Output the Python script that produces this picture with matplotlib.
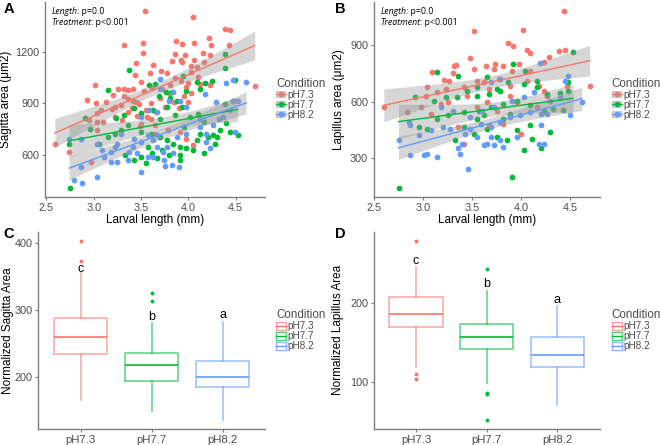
import matplotlib
matplotlib.use('Agg')
import matplotlib.pyplot as plt
import numpy as np
from matplotlib.lines import Line2D
from matplotlib.patches import Patch

plt.rcParams['font.family'] = ['Liberation Sans', 'DejaVu Sans']

conditions = ['pH7.3', 'pH7.7', 'pH8.2']
colors = ['#F8766D', '#00BA38', '#619CFF']

# panel A: larval length (mm) vs sagitta area
sag_73 = np.array([
    [3.54, 1435], [4.05, 1402], [4.39, 1329], [4.44, 1325], [4.22, 1277], [3.32, 1240],
    [3.52, 1252], [4.06, 1248], [3.93, 1242], [4.43, 1238], [3.86, 1185], [3.96, 1179],
    [3.52, 1192], [4.15, 1190], [4.23, 1179], [3.92, 1150], [4.06, 1150], [3.83, 1146],
    [3.93, 1137], [3.45, 1133], [4.16, 1137], [3.63, 1121], [3.71, 1088], [4.03, 1117],
    [4.09, 1113], [4.03, 1079], [3.77, 1075], [3.59, 1075], [3.44, 1063], [3.50, 1025],
    [3.01, 1006], [3.26, 983], [3.32, 983], [3.36, 979], [3.41, 983], [3.86, 1044],
    [3.92, 1031], [4.00, 1017], [4.12, 1012], [4.23, 1008], [3.98, 992], [4.03, 958],
    [3.81, 1004], [3.72, 981], [3.53, 969], [3.62, 988], [2.93, 917], [3.02, 900],
    [3.13, 906], [3.32, 940], [3.36, 925], [3.42, 915], [3.48, 896], [3.19, 867],
    [3.23, 877], [3.29, 887], [3.08, 858], [3.03, 844], [3.04, 790], [3.23, 819],
    [3.36, 848], [3.46, 825], [3.56, 819], [3.65, 771], [3.78, 742], [3.91, 733],
    [3.98, 694], [4.05, 660], [4.70, 1002], [2.59, 662], [2.74, 617], [2.97, 556],
    [3.65, 723], [3.49, 765], [3.04, 742], [3.87, 1262], [4.24, 1236], [3.40, 870],
    [3.45, 905], [3.55, 860], [3.60, 900], [3.66, 850], [3.70, 930], [3.75, 880],
    [3.80, 960], [3.85, 905], [3.90, 870], [3.95, 940], [4.00, 905], [4.10, 1050],
    [3.30, 800], [3.50, 780], [3.60, 810], [3.20, 950], [3.10, 790], [2.95, 800],
])
sag_77 = np.array([
    [3.37, 1094], [3.15, 977], [2.91, 815], [2.96, 752], [2.74, 665], [2.75, 406],
    [3.06, 665], [3.15, 704], [3.24, 815], [3.43, 873], [3.50, 842], [3.63, 863],
    [3.70, 806], [3.86, 829], [4.02, 819], [4.10, 838], [4.17, 790], [3.93, 877],
    [4.09, 1021], [4.18, 1017], [4.25, 1031], [4.12, 983], [3.94, 1060], [3.98, 973],
    [3.69, 944], [3.81, 929], [3.58, 1008], [3.65, 1012], [3.76, 963], [3.83, 963],
    [3.88, 915], [3.77, 877], [3.36, 771], [3.29, 742], [3.22, 723], [3.50, 733],
    [3.60, 723], [3.70, 704], [3.77, 685], [3.84, 665], [3.91, 646], [3.98, 637],
    [4.05, 627], [4.16, 608], [4.26, 713], [4.28, 665], [4.33, 746], [4.40, 787],
    [4.52, 713], [4.49, 1037], [4.39, 1104], [4.39, 1185], [3.50, 588], [3.62, 608],
    [3.72, 627], [3.79, 598], [3.33, 598], [3.43, 569], [3.55, 554], [3.67, 579],
    [3.91, 569], [3.91, 598], [3.57, 646], [4.12, 723], [4.21, 704], [4.30, 704],
    [4.44, 733], [4.47, 910], [4.39, 896], [3.32, 829], [3.95, 762], [4.09, 685],
])
sag_82 = np.array([
    [2.74, 694], [2.87, 694], [3.04, 665], [3.22, 646], [3.03, 473], [2.88, 435],
    [2.87, 531], [2.79, 454], [3.25, 560], [3.36, 569], [3.50, 502], [3.37, 617],
    [3.46, 608], [3.57, 588], [3.63, 588], [3.74, 569], [3.75, 535], [3.83, 540],
    [3.73, 617], [3.77, 646], [3.84, 608], [3.63, 685], [3.67, 646], [3.50, 675],
    [3.41, 646], [3.29, 723], [3.11, 588], [3.09, 627], [3.18, 617], [3.18, 560],
    [3.25, 665], [3.43, 694], [3.57, 713], [3.67, 713], [3.88, 704], [3.98, 723],
    [4.12, 762], [4.19, 723], [4.26, 771], [4.32, 810], [4.37, 819], [4.44, 858],
    [4.47, 915], [4.52, 915], [4.61, 1025], [4.40, 1017], [4.47, 1037], [4.18, 954],
    [4.29, 906], [4.19, 675], [4.23, 637], [4.49, 733], [4.12, 810], [3.98, 877],
    [3.91, 915], [3.79, 915], [3.67, 848], [3.70, 1040], [3.84, 963], [3.70, 983],
    [3.58, 858], [3.50, 819], [3.90, 531],
])

# panel B: larval length (mm) vs lapillus area
lap_73 = np.array([
    [4.44, 1081], [3.52, 975], [4.02, 981], [3.87, 914], [3.92, 896], [4.06, 875],
    [4.09, 861], [4.39, 870], [4.45, 875], [4.29, 840], [3.48, 835], [3.73, 800],
    [3.82, 791], [3.64, 791], [3.32, 791], [3.34, 797], [3.98, 800], [4.23, 809],
    [3.52, 774], [3.72, 774], [3.91, 765], [4.09, 761], [3.31, 751], [3.09, 760],
    [3.21, 718], [3.26, 712], [3.55, 712], [3.62, 704], [3.77, 721], [4.06, 712],
    [3.04, 681], [3.14, 651], [3.23, 668], [3.42, 677], [3.67, 668], [3.89, 686],
    [4.18, 686], [4.23, 660], [4.26, 633], [3.89, 633], [3.45, 633], [2.84, 546],
    [2.60, 572], [2.98, 572], [3.08, 537], [3.18, 590], [3.65, 598], [3.75, 554],
    [4.00, 432], [4.70, 686], [4.47, 686], [3.42, 379], [3.36, 467], [3.67, 476],
    [3.03, 633], [3.25, 598], [3.55, 572], [4.16, 572], [3.82, 484], [3.96, 598],
])
lap_77 = np.array([
    [2.75, 142], [3.91, 204], [4.53, 865], [3.14, 756], [3.36, 739], [3.92, 800],
    [4.48, 707], [4.40, 646], [4.48, 656], [4.03, 695], [4.16, 677], [4.26, 642],
    [3.75, 668], [3.67, 642], [3.55, 633], [3.45, 660], [3.35, 625], [3.23, 625],
    [3.11, 607], [2.92, 625], [2.96, 467], [3.04, 458], [3.14, 511], [3.25, 528],
    [3.42, 546], [3.57, 554], [3.69, 572], [3.82, 590], [3.96, 607], [4.09, 581],
    [4.23, 554], [4.33, 563], [4.43, 558], [3.42, 467], [3.52, 432], [3.65, 458],
    [3.75, 414], [3.86, 397], [3.96, 449], [4.09, 476], [4.20, 353], [4.03, 344],
    [4.30, 440], [4.11, 405], [3.33, 397], [3.55, 511], [3.62, 528], [3.82, 511],
    [3.89, 537], [3.79, 660], [3.87, 704], [3.65, 730], [3.55, 677], [4.04, 765],
    [4.16, 712],
])
lap_82 = np.array([
    [2.75, 397], [2.87, 318], [3.01, 318], [3.04, 326], [3.14, 309], [3.46, 244],
    [3.36, 353], [3.40, 379], [3.38, 326], [2.87, 476], [2.86, 493], [2.96, 423],
    [3.08, 449], [3.20, 467], [3.28, 458], [3.48, 458], [3.59, 484], [3.69, 467],
    [3.79, 493], [3.89, 519], [3.99, 528], [4.09, 546], [4.20, 537], [4.30, 607],
    [4.40, 625], [4.45, 712], [4.48, 739], [4.19, 804], [4.62, 598], [4.50, 528],
    [4.20, 476], [4.23, 379], [4.18, 379], [3.96, 414], [3.79, 397], [3.65, 379],
    [3.55, 414], [3.43, 432], [3.69, 414], [3.82, 362], [3.72, 370], [3.62, 370],
    [3.18, 572], [3.31, 554], [3.48, 519], [3.60, 554], [3.72, 572], [3.79, 721],
    [3.69, 704], [3.91, 607], [4.03, 625], [4.13, 651], [4.26, 537],
])

# panels C, D: box statistics
sag_med = [259.5, 217, 199]
sag_q1 = [234, 193, 184]
sag_q3 = [288.5, 236, 224]
sag_lo = [165, 149, 135]
sag_hi = [355, 280, 282]
sag_out = [[404, 373], [325, 313], []]
sag_letters = ['c', 'b', 'a']
sag_letter_y = [362, 290, 292]

lap_med = [185.8, 157.3, 134.3]
lap_q1 = [169.5, 141.4, 119.7]
lap_q3 = [207.5, 172.8, 156.5]
lap_lo = [119.7, 99.6, 71.5]
lap_hi = [245, 214.6, 195.8]
lap_out = [[277.8, 110, 104.6], [241.8, 86.6, 85, 52.7], []]
lap_letters = ['c', 'b', 'a']
lap_letter_y = [252.7, 223, 204]

AX_COL = '#4d4d4d'
TICK_FS = 7.8
LAB_FS = 8.5


def style_axes(ax, label_x):
    for s in ['top', 'right']:
        ax.spines[s].set_visible(False)
    for s in ['left', 'bottom']:
        ax.spines[s].set_color('#7f7f7f')
        ax.spines[s].set_linewidth(1.0)
    ax.tick_params(colors='#7f7f7f', labelcolor=AX_COL, labelsize=TICK_FS,
                   length=2.5, width=0.8, pad=1.5)
    ax.yaxis.set_label_coords(label_x, 0.5)


def fit_band(x, y, grid, t=1.98):
    b1, b0 = np.polyfit(x, y, 1)
    n = len(x)
    resid = y - (b0 + b1 * x)
    s = np.sqrt(np.sum(resid ** 2) / (n - 2))
    xm = x.mean()
    se = s * np.sqrt(1. / n + (grid - xm) ** 2 / np.sum((x - xm) ** 2))
    fit = b0 + b1 * grid
    return fit, fit - t * se, fit + t * se


def scatter_panel(ax, groups, ylabel, yticks, label_x):
    for pts, c in zip(groups, colors):
        ax.scatter(pts[:, 0], pts[:, 1], s=17, color=c, linewidths=0, zorder=2)
    for pts, c in zip(groups, colors):
        grid = np.linspace(pts[:, 0].min(), pts[:, 0].max(), 80)
        fit, lo, hi = fit_band(pts[:, 0], pts[:, 1], grid)
        ax.fill_between(grid, lo, hi, color='#999999', alpha=0.4, linewidth=0, zorder=3)
        ax.plot(grid, fit, color=c, lw=1.0, zorder=4)
    allp = np.vstack(groups)
    xr = allp[:, 0].max() - allp[:, 0].min()
    yr = allp[:, 1].max() - allp[:, 1].min()
    ax.set_xlim(allp[:, 0].min() - 0.05 * xr, allp[:, 0].max() + 0.05 * xr)
    ax.set_ylim(allp[:, 1].min() - 0.05 * yr, allp[:, 1].max() + 0.05 * yr)
    ax.set_xticks([2.5, 3.0, 3.5, 4.0, 4.5])
    ax.set_yticks(yticks)
    ax.set_xlabel('Larval length (mm)', fontsize=LAB_FS, labelpad=1)
    ax.set_ylabel(ylabel, fontsize=LAB_FS)
    style_axes(ax, label_x)
    t1 = ax.text(0.03, 0.975, 'Length', style='italic', family='Open Sans',
                 fontsize=6.3, transform=ax.transAxes, va='top')
    ax.annotate(': p=0.0', xy=(1, 0), xycoords=t1, va='bottom', family='Open Sans',
                fontsize=6.3)
    t2 = ax.text(0.03, 0.92, 'Treatment', style='italic', family='Open Sans',
                 fontsize=6.3, transform=ax.transAxes, va='top')
    ax.annotate(': p<0.001', xy=(1, 0), xycoords=t2, va='bottom', family='Open Sans',
                fontsize=6.3)


def box_panel(ax, med, q1, q3, lo, hi, out, letters, letter_y, ylabel, yticks, label_x):
    stats = []
    for i in range(3):
        stats.append(dict(med=med[i], q1=q1[i], q3=q3[i], whislo=lo[i],
                          whishi=hi[i], fliers=out[i]))
    art = ax.bxp(stats, positions=[1, 2, 3], widths=0.75, showfliers=True,
                 patch_artist=False)
    for i, c in enumerate(colors):
        art['boxes'][i].set(color=c, alpha=0.6, lw=1.2)
        art['medians'][i].set(color=c, lw=1.2)
        for w in art['whiskers'][2 * i:2 * i + 2]:
            w.set(color=c, alpha=0.6, lw=1.2)
        for cap in art['caps'][2 * i:2 * i + 2]:
            cap.set_visible(False)
        art['fliers'][i].set(marker='o', markerfacecolor=c, markeredgecolor='none',
                             markersize=2.8)
        ax.text(i + 1, letter_y[i], letters[i], ha='center', va='center',
                fontsize=9, color='black')
    allv = np.concatenate([lo, hi] + [np.array(o) for o in out if len(o)])
    r = allv.max() - allv.min()
    ax.set_ylim(allv.min() - 0.05 * r, allv.max() + 0.05 * r)
    ax.set_xlim(0.4, 3.6)
    ax.set_xticks([1, 2, 3])
    ax.set_xticklabels(conditions)
    ax.set_yticks(yticks)
    ax.set_ylabel(ylabel, fontsize=LAB_FS)
    style_axes(ax, label_x)
    ax.tick_params(axis='x', labelsize=8.2)


fig = plt.figure(figsize=(6.6, 4.45), dpi=100)
axA = fig.add_axes([0.068, 0.557, 0.333, 0.438])
axB = fig.add_axes([0.566, 0.557, 0.343, 0.438])
axC = fig.add_axes([0.058, 0.036, 0.344, 0.443])
axD = fig.add_axes([0.566, 0.036, 0.343, 0.443])

scatter_panel(axA, [sag_73, sag_77, sag_82], 'Sagitta area (μm2)', [600, 900, 1200], -0.15)
scatter_panel(axB, [lap_73, lap_77, lap_82], 'Lapillus area (μm2)', [300, 600, 900], -0.128)
box_panel(axC, sag_med, sag_q1, sag_q3, sag_lo, sag_hi, sag_out, sag_letters,
          sag_letter_y, 'Normalized Sagitta Area', [200, 300, 400], -0.108)
box_panel(axD, lap_med, lap_q1, lap_q3, lap_lo, lap_hi, lap_out, lap_letters,
          lap_letter_y, 'Normalized Lapillus Area', [100, 200], -0.132)

# legends
pt_handles = [(Patch(facecolor='#c8c8c8', edgecolor='none'),
               Line2D([0], [0], color=c, lw=1.0, marker='o', markersize=4,
                      markeredgewidth=0)) for c in colors]
box_handles = [(Patch(facecolor='white', edgecolor=c, alpha=0.7, lw=1.0),
                Line2D([0], [0], color=c, lw=1.0)) for c in colors]

leg_kw = dict(frameon=False, fontsize=7.2, title='Condition', title_fontsize=8.4,
              handlelength=1.0, handleheight=0.8, handletextpad=0.2, labelspacing=0.0,
              borderpad=0, borderaxespad=0, loc='upper left', alignment='left')
for ax, handles, pos in [(axA, pt_handles, (0.418, 0.825)), (axB, pt_handles, (0.927, 0.825)),
                         (axC, box_handles, (0.418, 0.305)), (axD, box_handles, (0.927, 0.305))]:
    lg = ax.legend(handles, conditions, bbox_to_anchor=pos,
                   bbox_transform=fig.transFigure, **leg_kw)
    lg.get_title().set_color(AX_COL)
    for t in lg.get_texts():
        t.set_color(AX_COL)

for lbl, x, y in [('A', 0.005, 0.995), ('B', 0.508, 0.995), ('C', 0.005, 0.49), ('D', 0.508, 0.49)]:
    fig.text(x, y, lbl, fontsize=10.5, fontweight='bold', va='top', ha='left')

fig.savefig('out.png', dpi=100)
